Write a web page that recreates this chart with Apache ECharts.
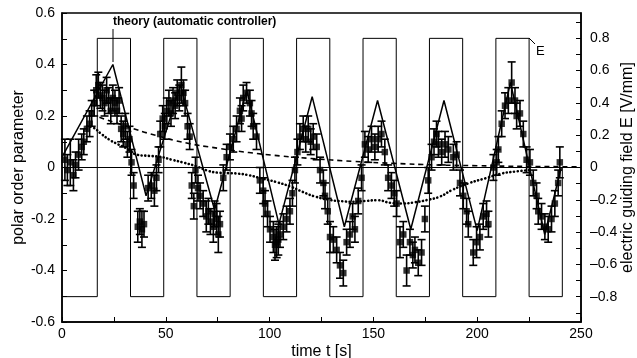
<!DOCTYPE html>
<html>
<head>
<meta charset="utf-8">
<script src="https://cdn.jsdelivr.net/npm/echarts@6/dist/echarts.min.js"></script>
<style>
  html, body { margin: 0; padding: 0; background: #fff; }
  #chart { width: 637px; height: 358px; }
</style>
</head>
<body>
<div id="chart"></div>
<script>
// measured data: time [s], polar order parameter, error
const dataT = [
  1.4, 2.6, 4.0, 5.5, 6.5, 8.0, 9.5, 10.5, 12.0, 13.3,
  14.3, 15.5, 16.5, 17.5, 18.5, 19.5, 20.5, 21.5, 22.5, 23.5,
  24.5, 25.5, 26.5, 27.5, 28.5, 29.5, 30.5, 31.5, 32.5, 33.5,
  34.5, 36.5, 37.5, 38.5, 39.5, 41.5, 43.0, 44.5, 45.5, 46.5,
  47.3, 48.5, 49.5, 50.5, 51.5, 52.5, 53.5, 54.5, 55.5, 56.5,
  57.5, 58.5, 59.3, 60.5, 61.5, 62.5, 63.5, 64.3, 65.5, 66.5,
  68.0, 69.5, 70.5, 71.5, 72.9, 73.5, 74.5, 75.3, 76.1, 77.7,
  79.3, 80.9, 82.5, 84.1, 85.7, 86.5, 87.3, 88.9, 90.5, 91.3,
  92.1, 93.7, 95.3, 96.9, 97.8, 99.0, 100.2, 101.8, 102.6, 103.4,
  104.2, 105.0, 106.6, 108.2, 109.8, 111.0, 112.2, 113.4, 114.6, 116.2,
  117.4, 118.6, 119.8, 121.0, 122.7, 124.3, 125.9, 126.7, 128.0, 129.1,
  130.7, 132.3, 133.9, 135.5, 137.1, 138.7, 140.0, 141.1, 142.7, 144.3,
  145.9, 147.5, 149.1, 150.7, 152.3, 153.9, 155.5, 157.1, 158.7, 160.0,
  161.2, 162.8, 164.4, 166.0, 167.6, 169.0, 170.0, 171.6, 173.2, 174.8,
  176.4, 178.0, 179.2, 180.4, 181.3, 182.9, 184.5, 186.1, 188.5, 190.1,
  191.7, 193.3, 194.9, 195.7, 198.1, 199.7, 201.3, 202.9, 204.5, 205.4,
  207.8, 209.4, 210.2, 211.8, 213.4, 215.0, 216.6, 218.2, 219.0, 220.6,
  222.2, 223.8, 225.4, 227.0, 228.6, 229.4, 231.0, 232.6, 234.2, 235.8,
  237.4, 239.0, 239.8
];
const dataV = [
  0.03, -0.01, 0.02, -0.03, 0.01, 0.05, 0.08, 0.10, 0.15, 0.17,
  0.21, 0.25, 0.30, 0.32, 0.28, 0.27, 0.25, 0.30, 0.26, 0.22,
  0.27, 0.25, 0.22, 0.26, 0.15, 0.13, 0.16, 0.09, 0.11, 0.02,
  -0.07, -0.23, -0.21, -0.24, -0.22, -0.08, -0.07, -0.09, -0.04, 0.03,
  0.13, 0.19, 0.16, 0.22, 0.25, 0.21, 0.26, 0.24, 0.29, 0.27,
  0.32, 0.29, 0.25, 0.16, 0.12, -0.07, -0.15, -0.01, -0.08, -0.11,
  -0.14, -0.19, -0.17, -0.21, -0.23, -0.18, -0.20, -0.26, -0.22, -0.04,
  0.04, 0.08, 0.11, 0.15, 0.22, 0.19, 0.27, 0.29, 0.25, 0.21,
  0.16, 0.12, -0.05, -0.09, -0.14, -0.18, -0.24, -0.27, -0.30, -0.29,
  -0.28, -0.26, -0.23, -0.20, -0.17, -0.10, -0.01, 0.06, 0.12, 0.15,
  0.11, 0.15, 0.10, 0.12, 0.08, -0.01, -0.06, -0.11, -0.17, -0.27,
  -0.28, -0.32, -0.38, -0.41, -0.29, -0.26, -0.19, -0.24, -0.13, -0.04,
  0.09, 0.07, 0.11, 0.08, 0.11, 0.13, 0.06, -0.04, -0.07, -0.10,
  -0.14, -0.29, -0.26, -0.40, -0.29, -0.34, -0.32, -0.37, -0.33, -0.20,
  -0.05, 0.04, 0.10, 0.13, 0.09, 0.06, 0.09, 0.07, 0.04, 0.05,
  -0.06, -0.11, -0.17, -0.22, -0.33, -0.29, -0.27, -0.19, -0.18, -0.22,
  0.00, 0.02, 0.07, 0.17, 0.24, 0.26, 0.33, 0.26, 0.20, 0.21,
  0.13, 0.03, 0.02, -0.06, -0.11, -0.17, -0.19, -0.23, -0.24, -0.20,
  -0.14, -0.06, 0.02
];
const dataErr = [
  0.08, 0.06, 0.09, 0.06, 0.05, 0.06, 0.05, 0.05, 0.05, 0.05,
  0.05, 0.05, 0.06, 0.05, 0.05, 0.05, 0.05, 0.05, 0.05, 0.05,
  0.05, 0.05, 0.05, 0.05, 0.05, 0.05, 0.05, 0.05, 0.05, 0.05,
  0.05, 0.06, 0.05, 0.07, 0.05, 0.05, 0.05, 0.06, 0.05, 0.05,
  0.05, 0.05, 0.05, 0.05, 0.05, 0.05, 0.05, 0.05, 0.05, 0.05,
  0.07, 0.05, 0.05, 0.05, 0.05, 0.05, 0.05, 0.05, 0.05, 0.05,
  0.05, 0.06, 0.05, 0.05, 0.06, 0.05, 0.06, 0.07, 0.05, 0.05,
  0.05, 0.05, 0.05, 0.05, 0.05, 0.05, 0.05, 0.04, 0.05, 0.05,
  0.05, 0.05, 0.05, 0.05, 0.05, 0.05, 0.05, 0.06, 0.06, 0.06,
  0.06, 0.05, 0.05, 0.05, 0.05, 0.05, 0.05, 0.05, 0.05, 0.05,
  0.05, 0.05, 0.05, 0.05, 0.05, 0.05, 0.05, 0.05, 0.05, 0.06,
  0.05, 0.05, 0.05, 0.05, 0.05, 0.05, 0.05, 0.05, 0.05, 0.05,
  0.05, 0.05, 0.05, 0.05, 0.05, 0.05, 0.05, 0.05, 0.05, 0.05,
  0.05, 0.06, 0.05, 0.06, 0.05, 0.05, 0.05, 0.05, 0.05, 0.05,
  0.05, 0.05, 0.05, 0.05, 0.05, 0.05, 0.05, 0.05, 0.05, 0.05,
  0.05, 0.05, 0.05, 0.05, 0.05, 0.06, 0.05, 0.05, 0.05, 0.05,
  0.05, 0.05, 0.05, 0.05, 0.05, 0.05, 0.08, 0.05, 0.05, 0.05,
  0.05, 0.05, 0.05, 0.05, 0.05, 0.05, 0.05, 0.05, 0.05, 0.05,
  0.05, 0.05, 0.06
];

// theory (automatic controller), solid zigzag
const theoryT = [0, 24.5, 40.5, 57, 73.5, 89, 104.5, 120.5, 136, 152, 168, 184, 200, 216, 232.5, 240.5];
const theoryV = [0.04, 0.40, -0.11, 0.32, -0.165, 0.30, -0.22, 0.275, -0.23, 0.26, -0.24, 0.26, -0.245, 0.33, -0.26, 0.0];

// dashed curve
const dashT = [18, 31, 45, 60, 75, 90, 105, 120, 140, 160, 180, 200, 225, 248];
const dashV = [0.195, 0.16, 0.125, 0.095, 0.075, 0.058, 0.045, 0.035, 0.024, 0.016, 0.01, 0.007, 0.004, 0.003];

// dotted curve
const dotT = [12, 15, 19, 23, 27, 31, 36, 42, 47, 53, 59, 65, 70, 75, 80, 85, 90, 96, 103, 110,
              116, 122, 129, 135, 140, 146, 152, 158, 164, 170, 176, 182, 188, 196, 204, 212, 218, 225];
const dotV = [0.16, 0.155, 0.13, 0.107, 0.09, 0.075, 0.05, 0.045, 0.042, 0.03, 0.018, 0.004, -0.012, -0.02, -0.022, -0.024, -0.03, -0.042, -0.056, -0.074,
              -0.095, -0.113, -0.126, -0.131, -0.133, -0.13, -0.127, -0.137, -0.14, -0.135, -0.126, -0.113, -0.087, -0.061, -0.042, -0.023, -0.016, -0.01];

// electric guiding field E [V/mm]: level held from each switching time to the next
const eSwitchT = [0, 17, 33, 49, 65, 81, 97, 113, 129, 145, 161, 177, 193, 209, 225, 241];
const eLevel   = [-0.8, 0.8, -0.8, 0.8, -0.8, 0.8, -0.8, 0.8, -0.8, 0.8, -0.8, 0.8, -0.8, 0.8, -0.8, 0];

const xTicks = [0, 50, 100, 150, 200, 250];
const eLabels = [-0.8, -0.6, -0.4, -0.2, 0, 0.2, 0.4, 0.6, 0.8];
const eTicks = [-0.9, -0.8, -0.7, -0.6, -0.5, -0.4, -0.3, -0.2, -0.1, 0, 0.1, 0.2, 0.3, 0.4, 0.5, 0.6, 0.7, 0.8, 0.9];

const pts = dataT.map((t, i) => [t, dataV[i], dataErr[i]]);
const zip = (a, b) => a.map((v, i) => [v, b[i]]);

// one step per item: [start, level, next switch, next level]
const eSteps = eSwitchT.slice(0, -1).map((t, i) => [t, eLevel[i], eSwitchT[i + 1], eLevel[i + 1]]);

const chart = echarts.init(document.getElementById('chart'));
const labelFont = { color: '#000', fontFamily: 'Liberation Sans', fontSize: 14 };
const nameFont = { color: '#000', fontFamily: 'Liberation Sans', fontSize: 16 };

chart.setOption({
  animation: false,
  grid: {
    left: 62, right: 56, top: 13, bottom: 36,
    outerBoundsMode: 'none', containLabel: false,
    show: true, borderColor: '#000', borderWidth: 1.5
  },
  xAxis: {
    type: 'value', min: 0, max: 250, interval: 50,
    name: 'time t [s]', nameLocation: 'middle', nameGap: 22, nameMoveOverlap: false, nameTextStyle: nameFont,
    axisLine: { onZero: false, lineStyle: { color: '#000', width: 1.5 } },
    axisTick: { inside: true, length: 5, lineStyle: { color: '#000' } },
    minorTick: { show: true, splitNumber: 2, length: 5, lineStyle: { color: '#000' } },
    splitLine: { show: false },
    axisLabel: Object.assign({ margin: 5, customValues: xTicks }, labelFont)
  },
  yAxis: [
    {
      type: 'value', min: -0.6, max: 0.6, interval: 0.2,
      name: 'polar order parameter', nameLocation: 'middle', nameGap: 35, nameRotate: 90, nameMoveOverlap: false, nameTextStyle: nameFont,
      axisLine: { onZero: false, lineStyle: { color: '#000', width: 1.5 } },
      axisTick: { inside: true, length: 5, lineStyle: { color: '#000' } },
      minorTick: { show: true, splitNumber: 2, length: 5, lineStyle: { color: '#000' } },
      splitLine: { show: false },
      axisLabel: Object.assign({ margin: 7, formatter: v => (Math.abs(v) < 1e-9 ? '0' : v.toFixed(1)) }, labelFont)
    },
    {
      type: 'value', min: -0.957, max: 0.957, position: 'right',
      name: 'electric guiding field E [V/mm]', nameLocation: 'middle', nameGap: 39, nameRotate: 90, nameMoveOverlap: false, nameTextStyle: nameFont,
      axisLine: { show: true, onZero: false, lineStyle: { color: '#000', width: 1.5 } },
      axisTick: { show: true, inside: true, length: 5, customValues: eTicks, lineStyle: { color: '#000' } },
      splitLine: { show: false },
      axisLabel: Object.assign({
        margin: 9, customValues: eLabels,
        formatter: v => (Math.abs(v) < 1e-9 ? '0' : (v < 0 ? '\u2013' + (-v).toFixed(1) : v.toFixed(1)))
      }, labelFont)
    }
  ],
  graphic: [
    { type: 'text', left: 113, top: 16, style: { text: 'theory (automatic controller)', font: 'bold 12px "Liberation Sans"', fill: '#000' } },
    { type: 'line', shape: { x1: 113, y1: 29, x2: 113, y2: 62 }, style: { stroke: '#000', lineWidth: 1 } },
    { type: 'text', left: 536, top: 45, style: { text: 'E', font: '13px "Liberation Sans"', fill: '#000' } },
    { type: 'line', shape: { x1: 529, y1: 38, x2: 535, y2: 44 }, style: { stroke: '#000', lineWidth: 1 } }
  ],
  series: [
    {
      name: 'E', type: 'custom', yAxisIndex: 1,
      data: eSteps,
      encode: { x: [0, 2], y: [1, 3] },
      renderItem: (params, api) => {
        const p0 = api.coord([api.value(0), api.value(1)]);
        const p1 = api.coord([api.value(2), api.value(1)]);
        const p2 = api.coord([api.value(2), api.value(3)]);
        return { type: 'polyline', shape: { points: [p0, p1, p2] }, style: { stroke: '#000', lineWidth: 1, fill: null } };
      }
    },
    {
      name: 'dashed', type: 'line', symbol: 'none', smooth: true,
      data: zip(dashT, dashV),
      lineStyle: { color: '#000', width: 1.6, type: [5, 4] }
    },
    {
      name: 'dotted', type: 'line', symbol: 'none', smooth: true,
      data: zip(dotT, dotV),
      lineStyle: { color: '#000', width: 2.6, type: [0.1, 3.6], cap: 'round' }
    },
    {
      name: 'theory', type: 'line', symbol: 'none',
      data: zip(theoryT, theoryV),
      lineStyle: { color: '#000', width: 1.5 },
      markLine: {
        silent: true, symbol: 'none', label: { show: false },
        lineStyle: { color: '#000', width: 1, type: 'solid' },
        data: [{ yAxis: 0 }]
      }
    },
    {
      name: 'errors', type: 'custom',
      data: pts,
      encode: { x: 0, y: 1 },
      renderItem: (params, api) => {
        const t = api.value(0), v = api.value(1), e = api.value(2);
        const top = api.coord([t, v + e]);
        const bot = api.coord([t, v - e]);
        const st = { stroke: '#000', lineWidth: 1.6 };
        return {
          type: 'group',
          children: [
            { type: 'line', shape: { x1: top[0], y1: top[1], x2: bot[0], y2: bot[1] }, style: st },
            { type: 'line', shape: { x1: top[0] - 4, y1: top[1], x2: top[0] + 4, y2: top[1] }, style: st },
            { type: 'line', shape: { x1: bot[0] - 4, y1: bot[1], x2: bot[0] + 4, y2: bot[1] }, style: st }
          ]
        };
      }
    },
    {
      name: 'data', type: 'scatter', symbol: 'rect', symbolSize: 6.5,
      data: pts.map(p => [p[0], p[1]]),
      itemStyle: { color: '#000' }
    }
  ]
});
</script>
</body>
</html>
